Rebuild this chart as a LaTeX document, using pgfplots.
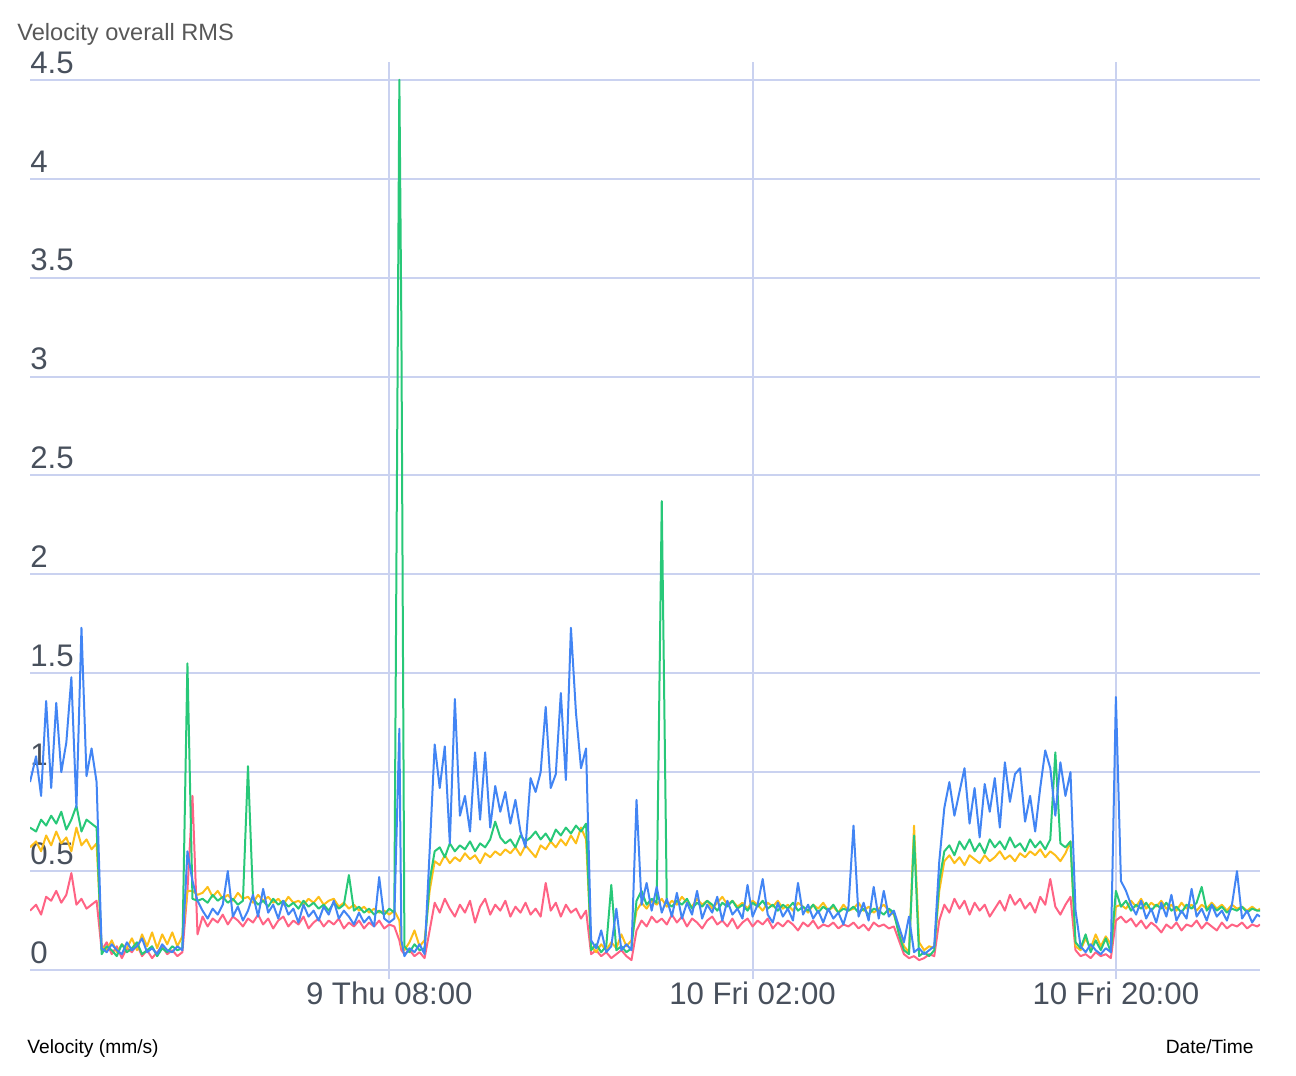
\documentclass[border=0pt]{standalone}
\usepackage{pgfplots}
\pgfplotsset{compat=1.18}
\usepackage{pgfplotstable}
\usepackage{fontspec}
\setmainfont{Liberation Sans}
\definecolor{gridc}{RGB}{202,210,240}
\definecolor{tickc}{RGB}{72,80,92}
\definecolor{titlec}{RGB}{88,88,88}
\definecolor{cred}{RGB}{255,99,132}
\definecolor{cyel}{RGB}{253,190,25}
\definecolor{cgrn}{RGB}{40,200,120}
\definecolor{cblu}{RGB}{66,133,244}
\pgfplotstableread{
t red yel grn blu
-17.8 0.30 0.62 0.72 0.95
-17.5 0.33 0.65 0.70 1.08
-17.25 0.28 0.60 0.76 0.88
-17.0 0.37 0.68 0.73 1.36
-16.75 0.35 0.63 0.78 0.92
-16.5 0.40 0.70 0.74 1.35
-16.25 0.34 0.64 0.80 1.00
-16.0 0.38 0.67 0.71 1.15
-15.75 0.49 0.60 0.76 1.48
-15.5 0.33 0.72 0.83 0.82
-15.25 0.36 0.63 0.70 1.73
-15.0 0.31 0.66 0.76 0.98
-14.75 0.33 0.61 0.74 1.12
-14.5 0.35 0.64 0.72 0.95
-14.25 0.10 0.12 0.08 0.11
-14.0 0.14 0.10 0.12 0.09
-13.75 0.08 0.15 0.10 0.13
-13.5 0.12 0.09 0.07 0.10
-13.25 0.06 0.13 0.13 0.08
-13.0 0.11 0.11 0.09 0.14
-12.75 0.09 0.16 0.11 0.10
-12.5 0.13 0.10 0.14 0.12
-12.25 0.07 0.18 0.08 0.16
-12.0 0.10 0.12 0.10 0.09
-11.75 0.06 0.19 0.12 0.11
-11.5 0.09 0.11 0.07 0.08
-11.25 0.12 0.18 0.11 0.13
-11.0 0.08 0.13 0.09 0.10
-10.75 0.10 0.19 0.12 0.09
-10.5 0.07 0.12 0.10 0.12
-10.25 0.09 0.17 0.11 0.10
-10.0 0.40 0.40 1.55 0.60
-9.75 0.88 0.40 0.36 0.45
-9.5 0.18 0.38 0.35 0.35
-9.25 0.27 0.39 0.36 0.30
-9.0 0.22 0.42 0.34 0.26
-8.75 0.26 0.37 0.38 0.31
-8.5 0.24 0.40 0.35 0.28
-8.25 0.28 0.36 0.37 0.33
-8.0 0.23 0.38 0.34 0.50
-7.75 0.27 0.35 0.36 0.27
-7.5 0.25 0.39 0.33 0.32
-7.25 0.22 0.36 0.35 0.25
-7.0 0.26 0.37 1.03 0.30
-6.75 0.24 0.34 0.36 0.38
-6.5 0.28 0.38 0.33 0.27
-6.25 0.23 0.35 0.35 0.41
-6.0 0.26 0.37 0.32 0.29
-5.75 0.21 0.34 0.36 0.33
-5.5 0.25 0.36 0.33 0.26
-5.25 0.27 0.33 0.35 0.35
-5.0 0.22 0.37 0.32 0.28
-4.75 0.25 0.34 0.34 0.31
-4.5 0.23 0.35 0.31 0.24
-4.25 0.27 0.33 0.35 0.33
-4.0 0.21 0.36 0.32 0.27
-3.75 0.24 0.34 0.34 0.30
-3.5 0.26 0.37 0.31 0.25
-3.25 0.22 0.33 0.33 0.32
-3.0 0.25 0.35 0.30 0.28
-2.75 0.23 0.36 0.34 0.35
-2.5 0.26 0.32 0.31 0.26
-2.25 0.21 0.34 0.33 0.30
-2.0 0.24 0.31 0.48 0.27
-1.75 0.22 0.33 0.30 0.23
-1.5 0.25 0.30 0.32 0.29
-1.25 0.21 0.32 0.29 0.24
-1.0 0.24 0.29 0.31 0.27
-0.75 0.22 0.31 0.28 0.22
-0.5 0.25 0.29 0.30 0.47
-0.25 0.21 0.30 0.28 0.26
0.0 0.23 0.28 0.31 0.24
0.25 0.22 0.30 0.29 0.26
0.5 0.15 0.25 4.50 1.22
0.6 0.10 0.12 3.25 0.15
0.75 0.08 0.10 0.12 0.07
1.0 0.10 0.14 0.09 0.11
1.25 0.07 0.20 0.13 0.09
1.5 0.09 0.12 0.10 0.13
1.75 0.06 0.15 0.11 0.08
2.0 0.20 0.40 0.45 0.60
2.25 0.34 0.55 0.60 1.14
2.5 0.29 0.53 0.62 0.92
2.75 0.36 0.58 0.57 1.13
3.0 0.31 0.54 0.64 0.64
3.25 0.27 0.57 0.60 1.37
3.5 0.33 0.55 0.63 0.78
3.75 0.29 0.59 0.61 0.88
4.0 0.35 0.56 0.65 0.70
4.25 0.24 0.58 0.60 1.10
4.5 0.32 0.54 0.64 0.76
4.75 0.36 0.59 0.62 1.10
5.0 0.28 0.57 0.66 0.72
5.25 0.33 0.60 0.75 0.93
5.5 0.30 0.58 0.67 0.80
5.75 0.35 0.61 0.64 0.90
6.0 0.27 0.59 0.66 0.74
6.25 0.32 0.62 0.62 0.86
6.5 0.29 0.58 0.68 0.70
6.75 0.34 0.63 0.65 0.62
7.0 0.28 0.60 0.67 0.97
7.25 0.31 0.57 0.70 0.90
7.5 0.27 0.63 0.66 1.00
7.75 0.44 0.61 0.69 1.33
8.0 0.30 0.65 0.65 0.92
8.25 0.34 0.62 0.71 0.99
8.5 0.27 0.66 0.68 1.40
8.75 0.33 0.63 0.72 0.96
9.0 0.29 0.68 0.69 1.73
9.25 0.31 0.64 0.73 1.30
9.5 0.26 0.72 0.70 1.02
9.75 0.30 0.66 0.74 1.12
10.0 0.08 0.12 0.10 0.15
10.25 0.10 0.09 0.13 0.11
10.5 0.07 0.13 0.09 0.20
10.75 0.09 0.10 0.12 0.09
11.0 0.06 0.14 0.43 0.12
11.25 0.08 0.11 0.10 0.31
11.5 0.10 0.18 0.12 0.10
11.75 0.07 0.12 0.09 0.13
12.0 0.05 0.15 0.11 0.10
12.25 0.20 0.30 0.35 0.86
12.5 0.25 0.34 0.40 0.33
12.75 0.22 0.31 0.33 0.44
13.0 0.27 0.35 0.36 0.30
13.25 0.24 0.33 0.34 0.42
13.5 0.26 0.36 2.37 0.29
13.75 0.23 0.32 0.34 0.36
14.0 0.28 0.35 0.32 0.27
14.25 0.24 0.33 0.35 0.39
14.5 0.27 0.37 0.33 0.26
14.75 0.22 0.34 0.36 0.34
15.0 0.26 0.32 0.31 0.28
15.25 0.24 0.36 0.34 0.40
15.5 0.21 0.33 0.32 0.26
15.75 0.25 0.35 0.35 0.33
16.0 0.27 0.31 0.33 0.29
16.25 0.23 0.34 0.30 0.37
16.5 0.25 0.37 0.34 0.25
16.75 0.22 0.33 0.32 0.35
17.0 0.26 0.35 0.35 0.28
17.25 0.21 0.32 0.31 0.31
17.5 0.24 0.34 0.33 0.26
17.75 0.26 0.31 0.30 0.43
18.0 0.22 0.35 0.34 0.27
18.25 0.25 0.33 0.32 0.33
18.5 0.23 0.30 0.35 0.46
18.75 0.26 0.34 0.31 0.28
19.0 0.21 0.32 0.33 0.24
19.25 0.24 0.35 0.30 0.34
19.5 0.22 0.31 0.33 0.27
19.75 0.25 0.33 0.31 0.31
20.0 0.23 0.30 0.34 0.25
20.25 0.20 0.34 0.30 0.44
20.5 0.24 0.32 0.32 0.28
20.75 0.22 0.29 0.30 0.33
21.0 0.25 0.33 0.33 0.26
21.25 0.21 0.31 0.29 0.30
21.5 0.23 0.34 0.32 0.24
21.75 0.22 0.30 0.30 0.31
22.0 0.24 0.32 0.33 0.26
22.25 0.21 0.29 0.29 0.29
22.5 0.23 0.33 0.31 0.23
22.75 0.22 0.30 0.30 0.32
23.0 0.24 0.31 0.32 0.73
23.25 0.21 0.34 0.29 0.27
23.5 0.23 0.30 0.31 0.34
23.75 0.20 0.32 0.28 0.25
24.0 0.24 0.29 0.31 0.42
24.25 0.22 0.31 0.30 0.26
24.5 0.23 0.33 0.28 0.40
24.75 0.21 0.30 0.31 0.27
25.0 0.22 0.28 0.29 0.30
25.25 0.15 0.20 0.18 0.22
25.5 0.08 0.12 0.10 0.14
25.75 0.06 0.09 0.08 0.27
26.0 0.07 0.73 0.68 0.09
26.25 0.05 0.14 0.07 0.11
26.5 0.06 0.10 0.09 0.08
26.75 0.08 0.12 0.07 0.10
27.0 0.07 0.11 0.10 0.12
27.25 0.25 0.40 0.45 0.55
27.5 0.33 0.55 0.60 0.82
27.75 0.29 0.58 0.63 0.95
28.0 0.36 0.54 0.58 0.78
28.25 0.31 0.57 0.65 0.90
28.5 0.35 0.53 0.61 1.02
28.75 0.28 0.58 0.66 0.74
29.0 0.34 0.56 0.60 0.92
29.25 0.30 0.54 0.64 0.67
29.5 0.33 0.58 0.59 0.94
29.75 0.27 0.55 0.66 0.80
30.0 0.31 0.57 0.62 0.97
30.25 0.35 0.60 0.65 0.72
30.5 0.30 0.56 0.61 1.05
30.75 0.38 0.58 0.67 0.85
31.0 0.33 0.55 0.62 0.99
31.25 0.36 0.59 0.64 1.02
31.5 0.31 0.57 0.60 0.75
31.75 0.34 0.60 0.66 0.88
32.0 0.29 0.58 0.62 0.70
32.25 0.37 0.61 0.65 0.92
32.5 0.33 0.57 0.61 1.11
32.75 0.46 0.60 0.66 1.02
33.0 0.32 0.58 1.10 0.78
33.25 0.28 0.55 0.64 1.05
33.5 0.33 0.59 0.62 0.88
33.75 0.37 0.65 0.65 1.00
34.0 0.10 0.12 0.14 0.30
34.25 0.07 0.10 0.11 0.12
34.5 0.08 0.16 0.18 0.09
34.75 0.06 0.11 0.09 0.13
35.0 0.09 0.18 0.15 0.10
35.25 0.07 0.12 0.10 0.08
35.5 0.08 0.17 0.16 0.11
35.75 0.06 0.13 0.09 0.09
36.0 0.25 0.32 0.40 1.38
36.25 0.27 0.33 0.32 0.45
36.5 0.24 0.31 0.35 0.40
36.75 0.26 0.35 0.30 0.33
37.0 0.22 0.32 0.33 0.28
37.25 0.25 0.36 0.31 0.35
37.5 0.21 0.31 0.34 0.26
37.75 0.24 0.34 0.30 0.31
38.0 0.22 0.32 0.33 0.24
38.25 0.19 0.35 0.31 0.34
38.5 0.23 0.31 0.34 0.27
38.75 0.21 0.33 0.30 0.38
39.0 0.24 0.30 0.32 0.25
39.25 0.20 0.34 0.29 0.30
39.5 0.23 0.31 0.33 0.26
39.75 0.22 0.33 0.31 0.41
40.0 0.25 0.30 0.34 0.27
40.25 0.21 0.33 0.42 0.31
40.5 0.24 0.31 0.30 0.25
40.75 0.22 0.34 0.33 0.33
41.0 0.20 0.31 0.30 0.27
41.25 0.24 0.33 0.32 0.30
41.5 0.21 0.30 0.29 0.25
41.75 0.23 0.33 0.31 0.33
42.0 0.22 0.31 0.30 0.50
42.25 0.24 0.32 0.32 0.26
42.5 0.21 0.30 0.29 0.30
42.75 0.23 0.32 0.31 0.24
43.0 0.22 0.30 0.30 0.28
43.14 0.23 0.31 0.30 0.27
}\vdata
\begin{document}
\begin{tikzpicture}
\begin{axis}[
  at={(15bp,48.5bp)}, anchor=south west,
  scale only axis, width=615bp, height=458.5bp,
  xmin=-17.8, xmax=43.14, ymin=-0.0455, ymax=4.59,
  axis line style={draw=none},
  xtick={0,18,36},
  xticklabels={9 Thu 08:00,10 Fri 02:00,10 Fri 20:00},
  ytick={0,0.5,1,1.5,2,2.5,3,3.5,4,4.5},
  yticklabels={0,0.5,1,1.5,2,2.5,3,3.5,4,4.5},
  grid=major,
  major grid style={draw=gridc, line width=1bp},
  major tick length=0pt,
  tick align=inside,
  xticklabel style={font=\fontsize{15.6bp}{18bp}\selectfont, text=tickc, inner sep=0pt, anchor=north, yshift=-1bp},
  yticklabel style={font=\fontsize{15.6bp}{18bp}\selectfont, text=tickc, inner sep=0pt, anchor=south west, yshift=3bp},
  every axis plot/.append style={line width=1bp, line join=round, mark=none},
]
\addplot[cred] table[x=t, y=red]{\vdata};
\addplot[cyel] table[x=t, y=yel]{\vdata};
\addplot[cgrn] table[x=t, y=grn]{\vdata};
\addplot[cblu] table[x=t, y=blu]{\vdata};
\end{axis}
\node[anchor=base west, text=titlec, font=\fontsize{11.8bp}{13bp}\selectfont, inner sep=0pt] at (8.5bp,517.5bp) {Velocity overall RMS};
\node[anchor=base west, text=black, font=\fontsize{9.6bp}{11bp}\selectfont, inner sep=0pt] at (13.5bp,11.4bp) {Velocity (mm/s)};
\node[anchor=base east, text=black, font=\fontsize{9.6bp}{11bp}\selectfont, inner sep=0pt] at (627bp,11.4bp) {Date/Time};
\pgfresetboundingbox
\useasboundingbox (0,0) rectangle (648bp,538bp);
\end{tikzpicture}
\end{document}
